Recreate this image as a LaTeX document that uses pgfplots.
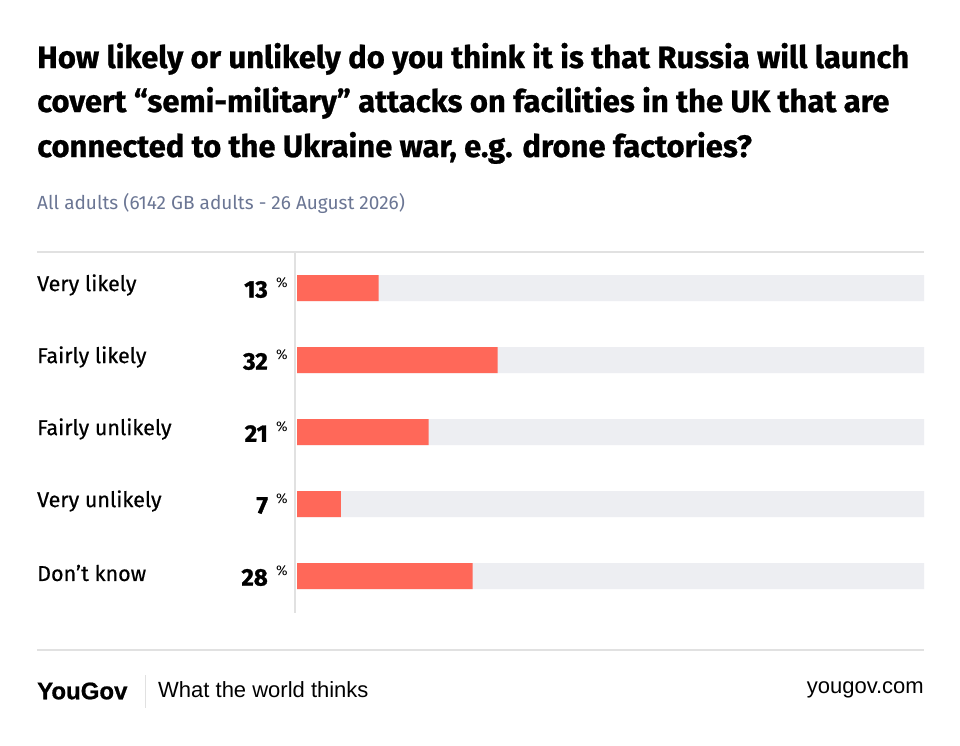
\documentclass[border=0pt]{standalone}
\usepackage{pgfplots}
\pgfplotsset{compat=1.18}
\usepackage{fontspec}
\setmainfont{Fira Sans}
\newfontfamily\titlefont{Fira Sans}[BoldFeatures={FakeBold=0.8}]
\newfontfamily\labfont{Fira Sans}[FakeBold=0.5]
\newfontfamily\valfont{Fira Sans}[BoldFeatures={FakeBold=1.2}]
\newfontfamily\footfont{Liberation Sans}
\newfontfamily\logofont{Liberation Sans}[BoldFeatures={FakeBold=0.8}]
\definecolor{barc}{HTML}{FF6859}
\definecolor{track}{HTML}{EDEEF2}
\definecolor{rule}{HTML}{E1E1E1}
\definecolor{subc}{HTML}{6B7694}
\begin{document}
\begin{tikzpicture}[x=1pt,y=1pt]
\fill[white] (0,0) rectangle (960,-745);
% title
\node[anchor=base west,inner sep=0] at (37,-68) {\titlefont\bfseries\fontsize{31}{36}\selectfont How likely or unlikely do you think it is that Russia will launch};
\node[anchor=base west,inner sep=0] at (37,-112) {\titlefont\bfseries\fontsize{31}{36}\selectfont covert “semi-military” attacks on facilities in the UK that are};
\node[anchor=base west,inner sep=0] at (37,-157) {\titlefont\bfseries\fontsize{31}{36}\selectfont connected to the Ukraine war, e.g. drone factories?};
\node[anchor=base west,inner sep=0,text=subc] at (37,-209) {\fontsize{19}{22}\selectfont All adults (6142 GB adults - 26 August 2026)};
\draw[rule,line width=1.5pt] (37,-252) -- (924,-252);
\draw[rule,line width=1.5pt] (37,-650) -- (924,-650);
\draw[rule,line width=2pt] (294.5,-252) -- (294.5,-613);
\begin{axis}[
  at={(297pt,-252pt)}, anchor=north west,
  width=627pt, height=360pt, scale only axis,
  xmin=0, xmax=100, ymin=-0.5, ymax=4.5, y dir=reverse,
  axis lines=none, xbar, bar width=26pt, bar shift=0pt,
  clip=false,
]
\addplot[fill=track,draw=none] coordinates {(100,0) (100,1) (100,2) (100,3) (100,4)};
\addplot[fill=barc,draw=none] coordinates {(13,0) (32,1) (21,2) (7,3) (28,4)};
\foreach \lab/\v [count=\i from 0] in {Very likely/13,Fairly likely/32,Fairly unlikely/21,Very unlikely/7,Don’t know/28}{
  \edef\temp{\noexpand\node[anchor=west,inner sep=0] at (axis cs:0,\i) [xshift=-260pt,yshift=3pt] {\noexpand\labfont\noexpand\fontsize{21.5}{24}\noexpand\selectfont\lab};
  \noexpand\node[anchor=east,inner sep=0] at (axis cs:0,\i) [xshift=-29pt,yshift=-1.5pt] {\noexpand\valfont\noexpand\fontsize{24}{28}\noexpand\selectfont\noexpand\bfseries \v};
  \noexpand\node[anchor=center,inner sep=0] at (axis cs:0,\i) [xshift=-15pt,yshift=5pt] {\noexpand\fontsize{14}{16}\noexpand\selectfont\noexpand\%};}
  \temp
}
\end{axis}
\node[anchor=west,inner sep=0] at (37,-691) {\logofont\bfseries\fontsize{24}{28}\selectfont YouGov};
\draw[rule,line width=1pt] (145,-675) -- (145,-708);
\node[anchor=west,inner sep=0] at (158,-690) {\footfont\fontsize{22}{26}\selectfont What the world thinks};
\node[anchor=east,inner sep=0] at (924,-690) {\footfont\fontsize{22}{26}\selectfont yougov.com};
\end{tikzpicture}
\end{document}
